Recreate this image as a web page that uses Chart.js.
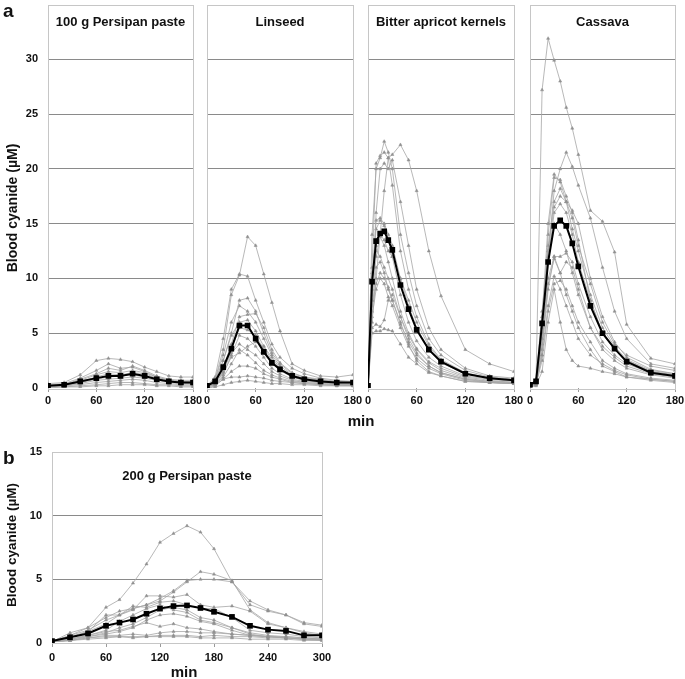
<!DOCTYPE html>
<html><head><meta charset="utf-8">
<script src="https://cdn.jsdelivr.net/npm/chart.js@4.4.1/dist/chart.umd.min.js"></script>
<style>
html,body{margin:0;padding:0;background:#fff;width:685px;height:679px;overflow:hidden;font-family:"Liberation Sans",Arial,sans-serif;}
canvas{position:absolute;}
.t{position:absolute;font-weight:bold;color:#111;white-space:nowrap;line-height:1;}
.rot{transform:translate(-50%,-50%) rotate(-90deg);}
.ctr{transform:translate(-50%,-50%);}
</style></head><body>
<canvas id="c1" width="210" height="410" style="left:0;top:0"></canvas>
<canvas id="c2" width="180" height="410" style="left:190px;top:0"></canvas>
<canvas id="c3" width="180" height="410" style="left:350px;top:0"></canvas>
<canvas id="c4" width="177" height="410" style="left:508px;top:0"></canvas>
<canvas id="c5" width="345" height="225" style="left:0;top:445px"></canvas>
<div class="t" style="left:3px;top:1px;font-size:19px">a</div>
<div class="t" style="left:3px;top:448px;font-size:19px">b</div>
<div class="t rot" style="left:12px;top:208px;font-size:14px">Blood cyanide (µM)</div>
<div class="t rot" style="left:12px;top:545px;font-size:13.5px">Blood cyanide (µM)</div>
<div class="t ctr" style="left:361px;top:420px;font-size:15px">min</div>
<div class="t ctr" style="left:184px;top:671px;font-size:15px">min</div>
<script>
// ---------- DATA ----------
const panelTitles = ["100 g Persipan paste", "Linseed", "Bitter apricot kernels", "Cassava", "200 g Persipan paste"];
const xTicksA = [0, 60, 120, 180];
const xTicksB = [0, 60, 120, 180, 240, 300];

// 100 g Persipan paste
const timesP100 = [0, 20, 40, 60, 75, 90, 105, 120, 135, 150, 165, 180];
const meanP100 = [0.2, 0.3, 0.6, 0.9, 1.1, 1.1, 1.3, 1.1, 0.8, 0.6, 0.5, 0.5];
const indivP100 = [
  [0.4, 0.5, 1.2, 2.5, 2.7, 2.6, 2.4, 1.9, 1.5, 1.1, 1.0, 1.0],
  [0.3, 0.4, 0.9, 1.6, 2.2, 1.8, 1.9, 1.5, 1.0, 0.7, 0.6, 0.6],
  [0.2, 0.3, 0.8, 1.3, 1.8, 1.6, 2.0, 1.6, 1.1, 0.8, 0.7, 0.7],
  [0.2, 0.3, 0.7, 1.2, 1.5, 1.4, 1.6, 1.4, 1.0, 0.7, 0.6, 0.5],
  [0.1, 0.2, 0.6, 1.0, 1.3, 1.2, 1.4, 1.3, 0.9, 0.6, 0.5, 0.5],
  [0.2, 0.3, 0.5, 0.8, 1.0, 1.1, 1.2, 1.0, 0.8, 0.6, 0.5, 0.4],
  [0.1, 0.2, 0.4, 0.7, 0.8, 0.9, 1.0, 0.9, 0.7, 0.5, 0.4, 0.4],
  [0.1, 0.2, 0.3, 0.5, 0.6, 0.7, 0.8, 0.7, 0.5, 0.4, 0.3, 0.3],
  [0.1, 0.1, 0.2, 0.3, 0.4, 0.5, 0.5, 0.4, 0.3, 0.3, 0.2, 0.2],
  [0.0, 0.1, 0.1, 0.2, 0.2, 0.3, 0.3, 0.3, 0.2, 0.2, 0.1, 0.1]
];

// Linseed
const timesLin = [0, 10, 20, 30, 40, 50, 60, 70, 80, 90, 105, 120, 140, 160, 180];
const meanLin = [0.2, 0.6, 1.9, 3.6, 5.7, 5.7, 4.5, 3.3, 2.3, 1.7, 1.1, 0.8, 0.6, 0.5, 0.5];
const indivLin = [
  [0.2, 0.8, 3.5, 8.5, 10.3, 13.8, 13.0, 10.4, 7.8, 5.2, 2.2, 1.6, 1.1, 1.0, 1.2],
  [0.2, 1.0, 4.5, 9.0, 10.4, 10.2, 8.0, 6.0, 4.0, 2.8, 1.8, 1.3, 0.9, 0.7, 0.6],
  [0.1, 0.6, 2.5, 5.0, 8.0, 8.2, 7.0, 5.0, 3.2, 2.2, 1.3, 1.0, 0.8, 0.6, 0.5],
  [0.2, 0.8, 3.0, 6.0, 7.5, 7.0, 6.0, 4.5, 3.0, 2.0, 1.2, 0.9, 0.7, 0.5, 0.5],
  [0.1, 0.5, 1.8, 4.0, 6.5, 6.7, 6.8, 5.5, 3.5, 2.3, 1.4, 1.0, 0.7, 0.6, 0.5],
  [0.2, 0.7, 2.5, 4.8, 6.0, 6.2, 5.2, 3.8, 2.5, 1.8, 1.1, 0.8, 0.6, 0.5, 0.4],
  [0.1, 0.4, 1.5, 3.5, 5.5, 5.3, 4.8, 3.5, 2.4, 1.6, 1.0, 0.7, 0.5, 0.4, 0.4],
  [0.1, 0.3, 1.2, 3.0, 4.8, 4.5, 3.8, 2.8, 1.8, 1.3, 0.8, 0.6, 0.5, 0.4, 0.3],
  [0.1, 0.5, 1.6, 3.2, 4.0, 3.5, 3.0, 2.2, 1.5, 1.1, 0.7, 0.5, 0.4, 0.3, 0.3],
  [0.1, 0.3, 1.0, 2.2, 3.5, 3.0, 2.3, 1.6, 1.2, 0.9, 0.6, 0.5, 0.4, 0.3, 0.3],
  [0.0, 0.2, 0.8, 1.5, 2.0, 2.0, 1.8, 1.3, 1.0, 0.8, 0.5, 0.4, 0.3, 0.3, 0.2],
  [0.1, 0.3, 0.8, 1.0, 1.0, 1.1, 1.0, 0.9, 0.7, 0.6, 0.5, 0.4, 0.3, 0.2, 0.2],
  [0.0, 0.1, 0.3, 0.5, 0.6, 0.7, 0.6, 0.5, 0.4, 0.4, 0.3, 0.3, 0.2, 0.2, 0.2],
  [0.1, 0.4, 1.4, 2.8, 3.2, 3.8, 4.2, 3.8, 2.8, 1.8, 1.0, 0.7, 0.5, 0.4, 0.4]
];

// Bitter apricot kernels
const timesApr = [0, 5, 10, 15, 20, 25, 30, 40, 50, 60, 75, 90, 120, 150, 180];
const meanApr = [0.2, 9.7, 13.4, 14.1, 14.3, 13.5, 12.6, 9.4, 7.2, 5.3, 3.5, 2.4, 1.3, 0.9, 0.7];
const indivApr = [
  [0.2, 14.0, 20.0, 21.0, 22.5, 21.5, 20.0, 14.0, 10.5, 7.5, 4.5, 3.0, 1.6, 1.0, 0.8],
  [0.2, 11.0, 20.5, 21.2, 21.5, 21.0, 18.5, 12.5, 9.0, 6.5, 4.0, 2.6, 1.4, 0.9, 0.7],
  [0.2, 8.0, 16.0, 20.0, 20.5, 20.0, 20.8, 17.0, 13.0, 9.0, 5.5, 3.5, 1.8, 1.1, 0.9],
  [0.1, 6.0, 10.0, 14.0, 18.0, 21.0, 21.3, 22.2, 20.8, 18.0, 12.5, 8.4, 3.5, 2.2, 1.5],
  [0.2, 9.5, 15.3, 15.5, 15.0, 14.0, 13.0, 10.0, 7.5, 5.5, 3.5, 2.3, 1.3, 0.9, 0.7],
  [0.2, 10.0, 14.5, 15.3, 14.8, 13.5, 12.0, 8.5, 6.0, 4.3, 2.8, 2.0, 1.1, 0.8, 0.6],
  [0.1, 9.0, 13.0, 14.0, 13.5, 12.5, 12.0, 10.0, 8.0, 6.0, 3.8, 2.5, 1.3, 0.9, 0.7],
  [0.1, 8.0, 12.0, 13.8, 13.0, 11.5, 10.0, 7.0, 5.0, 3.6, 2.4, 1.8, 1.0, 0.7, 0.5],
  [0.1, 10.5, 12.5, 12.0, 11.0, 10.0, 9.0, 6.5, 4.8, 3.5, 2.3, 1.6, 0.9, 0.6, 0.5],
  [0.2, 7.0, 11.0, 11.5, 10.5, 9.0, 8.0, 5.8, 4.2, 3.0, 2.0, 1.4, 0.8, 0.6, 0.5],
  [0.1, 5.5, 5.8, 5.6, 6.2, 8.0, 8.5, 6.5, 4.5, 3.2, 2.0, 1.4, 0.8, 0.5, 0.4],
  [0.1, 5.0, 5.2, 5.2, 5.4, 5.3, 5.2, 4.0, 2.8, 2.2, 1.4, 1.1, 0.6, 0.5, 0.4],
  [0.1, 6.5, 9.0, 10.0, 9.5, 8.3, 7.5, 5.5, 3.8, 2.7, 1.8, 1.3, 0.7, 0.5, 0.4],
  [0.2, 7.5, 9.5, 10.5, 10.0, 9.2, 8.0, 6.0, 4.0, 2.5, 1.5, 1.1, 0.6, 0.5, 0.4]
];

// Cassava
const timesCas = [0, 7.5, 15, 22.5, 30, 37.5, 45, 52.5, 60, 75, 90, 105, 120, 150, 180];
const meanCas = [0.3, 0.6, 5.9, 11.5, 14.8, 15.3, 14.8, 13.2, 11.1, 7.5, 5.0, 3.6, 2.4, 1.4, 1.1];
const indivCas = [
  [0.2, 0.8, 27.2, 31.9, 29.9, 28.0, 25.6, 23.7, 21.3, 16.2, 15.2, 12.4, 5.8, 2.7, 2.2],
  [0.2, 0.4, 3.0, 12.0, 18.0, 20.0, 21.5, 20.2, 18.5, 15.5, 11.0, 7.0, 4.5, 2.2, 1.8],
  [0.3, 0.6, 6.5, 15.0, 19.5, 18.8, 17.0, 15.5, 13.0, 9.5, 6.0, 4.0, 3.0, 2.0, 1.6],
  [0.2, 0.5, 5.5, 14.0, 19.2, 19.0, 17.5, 16.0, 13.5, 8.0, 5.0, 3.5, 2.5, 1.5, 1.2],
  [0.3, 0.7, 6.0, 13.0, 17.0, 18.2, 17.0, 14.5, 12.5, 8.5, 5.5, 3.8, 2.6, 1.6, 1.3],
  [0.2, 0.5, 5.0, 12.5, 16.5, 17.5, 17.0, 16.2, 15.0, 10.0, 6.5, 4.2, 2.8, 1.7, 1.3],
  [0.2, 0.5, 4.5, 11.5, 16.0, 16.8, 16.0, 14.0, 11.5, 8.0, 5.0, 3.5, 2.5, 1.5, 1.2],
  [0.3, 0.8, 7.0, 12.5, 15.0, 14.0, 12.5, 10.5, 8.5, 5.5, 3.8, 2.8, 2.0, 1.3, 1.0],
  [0.2, 0.4, 3.5, 9.0, 12.0, 12.0, 12.3, 11.5, 9.5, 6.5, 4.2, 3.0, 2.2, 1.4, 1.1],
  [0.2, 0.5, 4.0, 9.5, 11.8, 10.5, 11.5, 11.0, 9.0, 5.5, 3.5, 2.5, 1.8, 1.2, 0.9],
  [0.2, 0.3, 3.0, 7.5, 10.2, 9.0, 7.5, 6.0, 4.5, 3.0, 2.2, 1.6, 1.2, 0.8, 0.6],
  [0.1, 0.3, 2.5, 7.0, 9.5, 9.8, 9.0, 7.5, 6.0, 4.2, 2.5, 1.8, 1.3, 0.9, 0.7],
  [0.1, 0.2, 1.5, 6.0, 9.0, 6.0, 3.5, 2.5, 2.0, 1.8, 1.5, 1.3, 1.0, 0.7, 0.5],
  [0.2, 0.4, 4.5, 10.0, 12.0, 10.5, 8.5, 7.0, 5.5, 3.5, 2.0, 1.5, 1.0, 0.8, 0.6]
];

// 200 g Persipan paste
const timesP200 = [0, 20, 40, 60, 75, 90, 105, 120, 135, 150, 165, 180, 200, 220, 240, 260, 280, 300];
const meanP200 = [0.15, 0.45, 0.75, 1.35, 1.6, 1.85, 2.3, 2.7, 2.9, 2.95, 2.75, 2.45, 2.05, 1.35, 1.05, 0.95, 0.6, 0.6];
const indivP200 = [
  [0.1, 0.6, 1.2, 2.8, 3.4, 4.7, 6.2, 7.9, 8.6, 9.2, 8.7, 7.4, 4.8, 3.3, 2.6, 2.2, 1.6, 1.4],
  [0.1, 0.8, 1.2, 2.0, 2.5, 2.7, 3.0, 3.3, 4.0, 4.8, 5.6, 5.4, 4.9, 2.6, 1.6, 1.2, 0.8, 0.6],
  [0.2, 0.5, 0.9, 1.5, 2.2, 2.7, 3.0, 3.5, 4.1, 4.9, 5.0, 5.0, 4.8, 3.0, 2.5, 2.2, 1.5, 1.3],
  [0.1, 0.6, 1.0, 1.8, 2.2, 2.6, 3.7, 3.7, 3.6, 3.8, 3.0, 2.8, 2.9, 2.5, 1.5, 1.2, 0.9, 0.7],
  [0.1, 0.4, 0.9, 2.2, 2.2, 2.9, 2.8, 3.2, 3.3, 3.0, 2.7, 2.7, 2.0, 1.0, 0.8, 0.7, 0.5, 0.4],
  [0.1, 0.3, 0.6, 1.0, 1.7, 2.2, 2.7, 3.0, 2.6, 2.4, 1.8, 1.6, 1.2, 0.8, 0.6, 0.5, 0.4, 0.3],
  [0.1, 0.3, 0.5, 0.8, 1.2, 1.5, 2.0, 2.6, 2.8, 2.6, 2.0, 1.8, 1.2, 0.7, 0.5, 0.4, 0.3, 0.3],
  [0.1, 0.2, 0.5, 0.7, 0.9, 1.2, 1.8, 2.2, 2.3, 2.1, 1.7, 1.5, 1.0, 0.6, 0.5, 0.4, 0.3, 0.3],
  [0.1, 0.3, 0.6, 0.9, 1.0, 1.3, 1.6, 1.3, 1.5, 1.2, 1.1, 0.9, 0.7, 0.6, 0.5, 0.4, 0.3, 0.2],
  [0.1, 0.2, 0.4, 0.6, 0.6, 0.7, 0.6, 0.8, 0.9, 0.9, 0.8, 0.8, 0.7, 0.6, 0.5, 0.5, 0.4, 0.3],
  [0.1, 0.2, 0.4, 0.5, 0.5, 0.5, 0.5, 0.6, 0.6, 0.6, 0.5, 0.6, 0.5, 0.5, 0.4, 0.4, 0.3, 0.3],
  [0.1, 0.2, 0.3, 0.4, 0.5, 0.4, 0.5, 0.5, 0.5, 0.5, 0.4, 0.4, 0.4, 0.3, 0.3, 0.3, 0.2, 0.2]
];

// ---------- DRAWING ----------
const FONT = '"Liberation Sans", Arial, sans-serif';
function mk(id, title, times, indiv, mean, o) {
  const pts = arr => times.map((t, i) => ({ x: t, y: arr[i] }));
  const ds = [{
    data: pts(mean), borderColor: '#000', backgroundColor: '#000', borderWidth: 2,
    pointStyle: 'rect', pointRadius: 4, pointBackgroundColor: '#000', pointBorderColor: '#000', pointBorderWidth: 0
  }];
  indiv.forEach(s => ds.push({
    data: pts(s), borderColor: '#a6a6a6', borderWidth: 0.8,
    pointStyle: 'triangle', pointRadius: 1.8, pointBackgroundColor: '#909090', pointBorderColor: '#909090', pointBorderWidth: 0.5
  }));
  const frame = {
    id: 'frame',
    beforeDatasetsDraw(chart) {
      const a = chart.chartArea, c = chart.ctx;
      c.save();
      c.strokeStyle = '#c6c6c6'; c.lineWidth = 1;
      c.strokeRect(Math.round(a.left) + 0.5, Math.round(a.top) + 0.5, Math.round(a.right - a.left), Math.round(a.bottom - a.top));
      c.restore();
    },
    afterDatasetsDraw(chart) {
      const a = chart.chartArea, c = chart.ctx;
      c.save();
      c.fillStyle = '#111'; c.font = 'bold 13px ' + FONT;
      c.textAlign = 'center'; c.textBaseline = 'middle';
      c.fillText(title, (a.left + a.right) / 2, a.top + o.titleDy);
      c.restore();
    }
  };
  const zeroPad = s => { s.paddingLeft = 0; s.paddingRight = 0; s.paddingTop = 0; s.paddingBottom = 0; };
  new Chart(document.getElementById(id), {
    type: 'line',
    data: { datasets: ds },
    options: {
      responsive: false, animation: false, devicePixelRatio: 1, events: [],
      layout: { padding: { top: o.pt, right: o.pr, left: 0, bottom: 0 } },
      plugins: { legend: { display: false }, tooltip: { enabled: false } },
      elements: { line: { tension: 0 } },
      scales: {
        x: {
          type: 'linear', min: 0, max: o.xmax,
          afterBuildTicks: s => { s.ticks = o.xticks.map(v => ({ value: v })); },
          afterFit: s => { s.height = o.xh; zeroPad(s); },
          border: { display: false },
          grid: { drawOnChartArea: false, drawTicks: true, tickLength: 4, color: '#9a9a9a' },
          ticks: { padding: o.xpad, color: '#111', font: { family: FONT, size: 11, weight: 'bold' }, maxRotation: 0 }
        },
        y: {
          min: 0, max: o.ymax,
          afterFit: s => { s.width = o.yw; zeroPad(s); },
          border: { display: false },
          grid: {
            drawTicks: false,
            color: c => (c.tick && (c.tick.value === 0 || c.tick.value === o.ymax)) ? 'rgba(0,0,0,0)' : '#8a8a8a'
          },
          ticks: {
            display: o.ylab, stepSize: 5, padding: 10, color: '#111',
            font: { family: FONT, size: 11, weight: 'bold' },
            callback: v => (o.hideTop && v === o.ymax) ? '' : v
          }
        }
      }
    },
    plugins: [frame]
  });
}
const A = { xmax: 180, xticks: xTicksA, ymax: 35, xh: 22, xpad: 2, pt: 2, titleDy: 18, hideTop: true };
mk('c1', panelTitles[0], timesP100, indivP100, meanP100, Object.assign({}, A, { yw: 48, pr: 17, ylab: true }));
mk('c2', panelTitles[1], timesLin, indivLin, meanLin, Object.assign({}, A, { yw: 17, pr: 17, ylab: false }));
mk('c3', panelTitles[2], timesApr, indivApr, meanApr, Object.assign({}, A, { yw: 18, pr: 16, ylab: false }));
mk('c4', panelTitles[3], timesCas, indivCas, meanCas, Object.assign({}, A, { yw: 22, pr: 10, ylab: false }));
mk('c5', panelTitles[4], timesP200, indivP200, meanP200,
  { xmax: 300, xticks: xTicksB, ymax: 15, xh: 27, xpad: 4, pt: 7, titleDy: 24, hideTop: false, yw: 52, pr: 23, ylab: true });
</script>
</body></html>
